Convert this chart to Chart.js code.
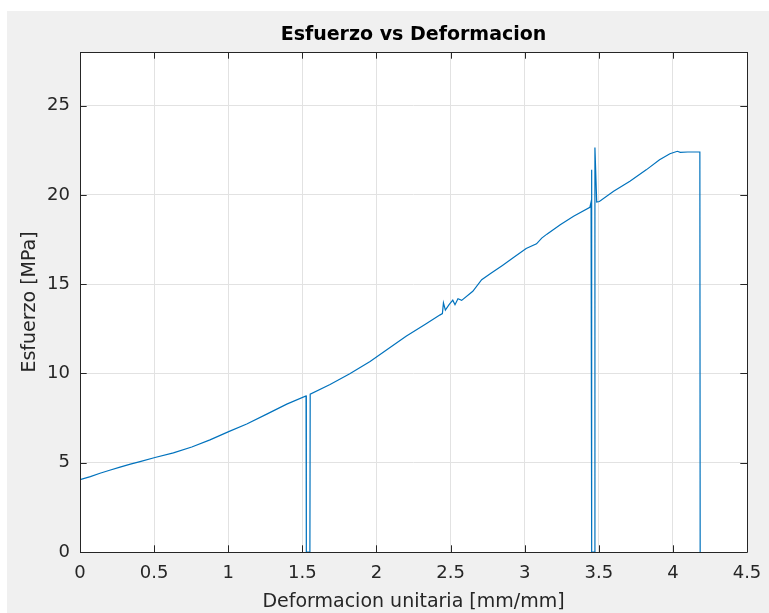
<!DOCTYPE html>
<html>
<head>
<meta charset="utf-8">
<script src="https://cdn.jsdelivr.net/npm/chart.js@4.4.1/dist/chart.umd.min.js"></script>
<style>
  html, body { margin: 0; padding: 0; background: #ffffff; }
  #fig { position: absolute; left: 7px; top: 11px; width: 762px; height: 602px; background: #f0f0f0; }
  canvas { display: block; }
</style>
</head>
<body>
<div id="fig"><canvas id="c" width="762" height="602"></canvas></div>
<script>
// ---- Data ----
const chartTitle = 'Esfuerzo vs Deformacion';
const xLabel = 'Deformacion unitaria [mm/mm]';
const yLabel = 'Esfuerzo [MPa]';
const xTickValues = [0, 0.5, 1, 1.5, 2, 2.5, 3, 3.5, 4, 4.5];
const yTickValues = [0, 5, 10, 15, 20, 25];
const strain = [
  0, 0.07, 0.135, 0.2, 0.27, 0.34, 0.405, 0.506, 0.63, 0.754, 0.877, 1.003, 1.125, 1.26, 1.395,
  1.525, 1.527, 1.551, 1.553, 1.687, 1.82, 1.957, 2.07, 2.2, 2.33, 2.43, 2.445, 2.452, 2.465,
  2.49, 2.515, 2.53, 2.55, 2.575, 2.65, 2.71, 2.77, 2.85, 2.92, 3.01, 3.08, 3.115, 3.15, 3.24,
  3.33, 3.44, 3.448, 3.451, 3.453, 3.472, 3.474, 3.486, 3.504, 3.6, 3.71, 3.82, 3.91, 3.98,
  4.03, 4.05, 4.1, 4.17, 4.182, 4.184
];
const stress = [
  4.05, 4.22, 4.41, 4.58, 4.75, 4.92, 5.06, 5.29, 5.55, 5.88, 6.28, 6.74, 7.17, 7.72, 8.28,
  8.74, 0, 0, 8.84, 9.38, 9.98, 10.67, 11.32, 12.08, 12.75, 13.28, 13.35, 13.95, 13.55,
  13.85, 14.1, 13.85, 14.18, 14.09, 14.6, 15.25, 15.6, 16.05, 16.46, 17.0, 17.26, 17.58, 17.8, 18.33,
  18.8, 19.3, 19.6, 21.4, 0, 0, 22.65, 19.6, 19.63, 20.2, 20.76, 21.4, 21.97, 22.3,
  22.44, 22.38, 22.4, 22.4, 22.4, 0
];

const points = strain.map((x, i) => ({ x: x, y: stress[i] }));
const axisColor = '#262626';
const gridColor = '#e2e2e2';

const boxPlugin = {
  id: 'matlabBox',
  beforeDraw(chart) {
    const { ctx, chartArea: a } = chart;
    ctx.save();
    ctx.fillStyle = '#ffffff';
    ctx.fillRect(a.left, a.top, a.right - a.left, a.bottom - a.top);
    ctx.restore();
  },
  afterDraw(chart) {
    const { ctx, chartArea: a, scales } = chart;
    const tl = 6.7;
    ctx.save();
    ctx.strokeStyle = axisColor;
    ctx.lineWidth = 1;
    ctx.beginPath();
    ctx.rect(Math.round(a.left) + 0.5, Math.round(a.top) + 0.5,
             Math.round(a.right) - Math.round(a.left), Math.round(a.bottom) - Math.round(a.top));
    ctx.stroke();
    ctx.beginPath();
    xTickValues.forEach(v => {
      const px = Math.round(scales.x.getPixelForValue(v)) + 0.5;
      ctx.moveTo(px, a.bottom); ctx.lineTo(px, a.bottom - tl);
      ctx.moveTo(px, a.top); ctx.lineTo(px, a.top + tl);
    });
    yTickValues.forEach(v => {
      const py = Math.round(scales.y.getPixelForValue(v)) + 0.5;
      ctx.moveTo(a.left, py); ctx.lineTo(a.left + tl, py);
      ctx.moveTo(a.right, py); ctx.lineTo(a.right - tl, py);
    });
    ctx.stroke();
    ctx.restore();
  }
};

Chart.defaults.font.family = "'DejaVu Sans', sans-serif";
Chart.defaults.color = axisColor;

new Chart(document.getElementById('c'), {
  type: 'scatter',
  data: {
    datasets: [{
      data: points,
      showLine: true,
      borderColor: '#0072BD',
      backgroundColor: '#0072BD',
      borderWidth: 1.2,
      pointRadius: 0,
      pointHoverRadius: 0,
      tension: 0
    }]
  },
  options: {
    responsive: false,
    devicePixelRatio: 1,
    animation: false,
    events: [],
    layout: { padding: { left: 0, right: 22, top: 0, bottom: 0 } },
    plugins: {
      legend: { display: false },
      tooltip: { enabled: false },
      title: {
        display: true,
        text: chartTitle,
        fullSize: false,
        color: '#000000',
        font: { size: 19, weight: 'bold', family: "'DejaVu Sans', sans-serif" },
        padding: { top: 13.1, bottom: 5.1 }
      }
    },
    scales: {
      x: {
        type: 'linear',
        min: 0,
        max: 4.5,
        afterBuildTicks(scale) { scale.ticks = xTickValues.map(v => ({ value: v })); },
        afterFit(scale) { scale.height = 61; scale.paddingLeft = 0; scale.paddingRight = 0; },
        ticks: {
          padding: 11,
          color: axisColor,
          font: { size: 18 },
          maxRotation: 0,
          autoSkip: false,
          callback: v => String(v)
        },
        grid: { color: gridColor, drawTicks: false, lineWidth: 1 },
        border: { display: false },
        title: {
          display: true,
          text: xLabel,
          color: axisColor,
          font: { size: 19 },
          padding: { top: 0, bottom: 0 }
        }
      },
      y: {
        type: 'linear',
        min: 0,
        max: 28,
        afterBuildTicks(scale) { scale.ticks = yTickValues.map(v => ({ value: v })); },
        afterFit(scale) { scale.width = 73; scale.paddingTop = 0; scale.paddingBottom = 0; },
        ticks: {
          padding: 10,
          color: axisColor,
          font: { size: 18 },
          autoSkip: false,
          callback: v => String(v)
        },
        grid: { color: gridColor, drawTicks: false, lineWidth: 1 },
        border: { display: false },
        title: {
          display: true,
          text: yLabel,
          color: axisColor,
          font: { size: 19 },
          padding: { top: 12, bottom: 0 }
        }
      }
    }
  },
  plugins: [boxPlugin]
});
</script>
</body>
</html>
